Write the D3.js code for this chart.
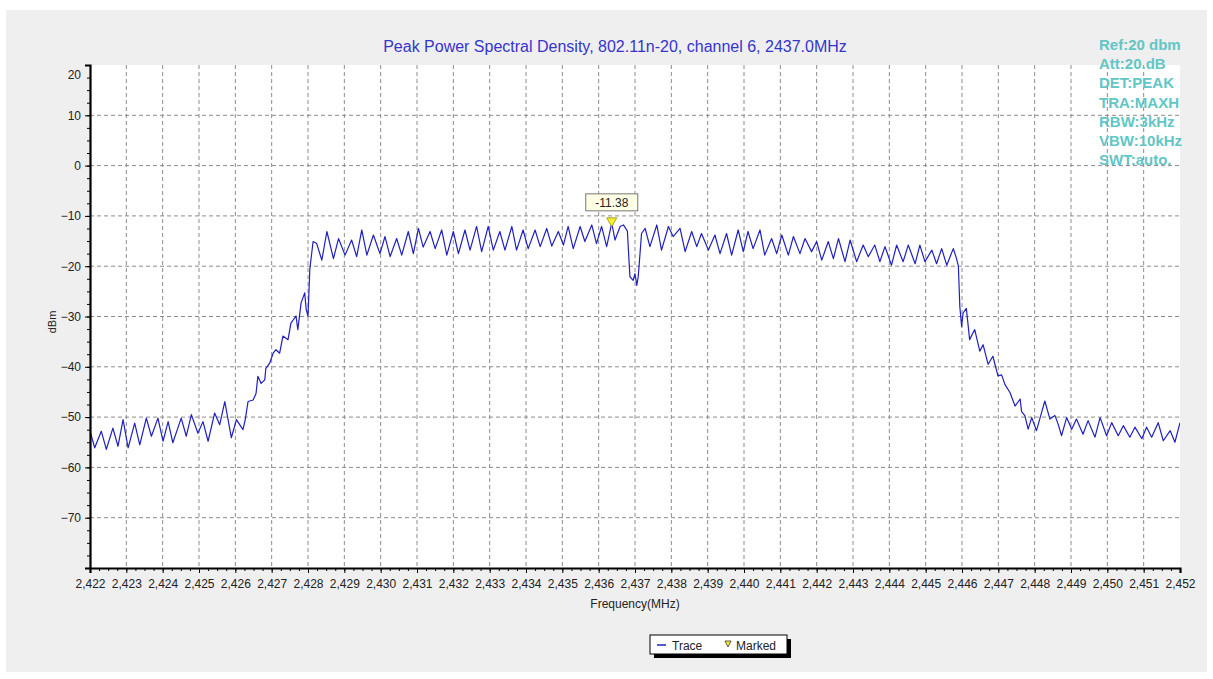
<!DOCTYPE html>
<html>
<head>
<meta charset="utf-8">
<title>Peak Power Spectral Density</title>
<script src="https://cdn.jsdelivr.net/npm/d3@7"></script>
<style>
    body { margin: 0; background: #fff; font-family: Arial, "Liberation Sans", sans-serif; }
</style>
</head>
<body>
<div id="chart"></div>
<script>
// trace vertices (MHz, dBm)
let traceFreq = [
    2422.00, 2422.13, 2422.31, 2422.45, 2422.63, 2422.77, 2422.91, 2423.05, 2423.23, 2423.37,
    2423.55, 2423.69, 2423.87, 2424.01, 2424.15, 2424.28, 2424.51, 2424.65, 2424.79, 2424.97,
    2425.11, 2425.25, 2425.43, 2425.57, 2425.71, 2425.89, 2426.03, 2426.21,
    2426.27, 2426.35, 2426.49, 2426.57, 2426.62, 2426.71, 2426.81, 2426.84, 2426.95, 2427.04,
    2427.12, 2427.22, 2427.31, 2427.45, 2427.53, 2427.67, 2427.72, 2427.81, 2427.91, 2427.95,
    2428.00, 2428.05, 2428.14,
    2428.24, 2428.38, 2428.52, 2428.70, 2428.84, 2429.02, 2429.20, 2429.34, 2429.48, 2429.62,
    2429.80, 2429.98, 2430.12, 2430.26, 2430.44, 2430.58, 2430.76, 2430.90, 2431.04, 2431.17,
    2431.36, 2431.50, 2431.68, 2431.82, 2432.00, 2432.14, 2432.32, 2432.46, 2432.64, 2432.78,
    2432.96, 2433.10, 2433.28, 2433.42, 2433.61, 2433.74, 2433.92, 2434.06, 2434.25, 2434.39,
    2434.57, 2434.71, 2434.89, 2435.03, 2435.16, 2435.30, 2435.49, 2435.62, 2435.81, 2435.94,
    2436.08, 2436.22, 2436.36, 2436.45, 2436.59, 2436.68, 2436.79, 2436.86, 2436.95, 2437.00,
    2437.05, 2437.09, 2437.18, 2437.28, 2437.41, 2437.60, 2437.73, 2437.92, 2438.05, 2438.24,
    2438.38, 2438.56, 2438.70, 2438.83, 2439.02, 2439.20, 2439.34, 2439.52, 2439.66, 2439.84,
    2439.98, 2440.11, 2440.25, 2440.44, 2440.57, 2440.76, 2440.90, 2441.04, 2441.22, 2441.36,
    2441.54, 2441.68, 2441.86, 2442.00, 2442.14, 2442.32, 2442.46, 2442.60, 2442.78, 2442.92,
    2443.10, 2443.28, 2443.42, 2443.60, 2443.74, 2443.88, 2444.06, 2444.20, 2444.38, 2444.52,
    2444.71, 2444.84, 2444.98, 2445.17, 2445.30, 2445.44, 2445.58, 2445.76, 2445.85, 2445.90,
    2445.94, 2445.99, 2446.03, 2446.12, 2446.21, 2446.35, 2446.49, 2446.58, 2446.72, 2446.85,
    2446.99, 2447.09, 2447.18, 2447.32, 2447.46, 2447.60, 2447.64, 2447.73, 2447.82, 2447.92,
    2448.05, 2448.19, 2448.28, 2448.42, 2448.56, 2448.65, 2448.74, 2448.88, 2449.02, 2449.15,
    2449.33, 2449.47, 2449.66, 2449.80, 2449.98, 2450.12, 2450.30, 2450.44, 2450.62, 2450.76,
    2450.95, 2451.08, 2451.22, 2451.40, 2451.54, 2451.73, 2451.86, 2452.00
];
let traceLevel = [
    -52.8, -56.1, -52.8, -56.4, -52.2, -55.8, -50.5, -56.1, -51.2, -55.5,
    -50.2, -53.8, -50.2, -54.8, -50.9, -55.1, -50.2, -53.8, -49.5, -53.2,
    -50.9, -54.8, -49.2, -51.5, -46.9, -54.1, -50.5, -52.5,
    -50.6, -46.9, -46.6, -45.3, -41.9, -43.3, -42.6, -40.3, -39.2, -37.3,
    -36.6, -37.3, -33.9, -34.6, -31.3, -29.9, -32.6, -27.3, -25.3, -28.6,
    -29.9, -20.6, -15.1,
    -15.5, -18.8, -13.1, -18.5, -14.5, -17.8, -14.8, -18.1, -12.8, -17.8,
    -13.8, -17.5, -14.1, -18.1, -14.5, -17.8, -13.1, -17.5, -12.5, -16.2,
    -13.1, -16.5, -12.8, -17.8, -13.1, -17.5, -12.8, -16.8, -12.1, -17.1,
    -12.1, -16.8, -13.1, -16.8, -12.1, -16.8, -12.8, -16.5, -12.8, -16.1,
    -12.5, -16.0, -13.1, -15.8, -12.1, -16.5, -12.1, -15.1, -11.8, -15.5,
    -12.1, -16.1, -11.38, -14.8, -12.1, -11.8, -13.0, -22.1, -22.8, -21.5,
    -23.8, -22.0, -13.5, -12.5, -16.1, -11.8, -16.8, -12.1, -14.1, -12.5,
    -17.1, -13.1, -16.1, -13.5, -16.8, -13.8, -17.5, -13.5, -17.8, -12.8,
    -17.1, -13.1, -16.5, -12.8, -17.8, -14.5, -17.5, -13.8, -17.8, -14.1,
    -17.5, -14.5, -17.1, -15.1, -18.8, -15.1, -18.5, -14.5, -19.1, -14.8,
    -19.1, -15.8, -18.1, -15.8, -19.1, -16.1, -19.8, -15.8, -19.1, -15.8,
    -19.5, -15.8, -19.1, -16.8, -19.5, -16.5, -19.8, -16.5, -18.5, -20.0,
    -28.0, -32.0, -29.3, -28.4, -34.6, -32.6, -36.9, -35.6, -39.5, -37.9,
    -41.8, -41.6, -43.5, -45.1, -47.8, -46.4, -48.9, -49.7, -52.4, -50.1,
    -52.7, -49.1, -46.8, -50.4, -49.7, -51.5, -53.7, -50.1, -52.4, -50.4,
    -53.4, -50.7, -54.0, -50.1, -53.7, -51.1, -53.7, -51.7, -54.0, -52.0,
    -54.3, -52.0, -54.0, -51.1, -54.7, -52.7, -55.0, -51.1
];

let yTickValues = [20, 10, 0, -10, -20, -30, -40, -50, -60, -70];
let xTickValues = d3.range(2422, 2453, 1);

let markerFreq = [2436.36];
let markerLevel = [-11.38];

let settingsText = ["Ref:20 dbm", "Att:20.dB", "DET:PEAK", "TRA:MAXH", "RBW:3kHz", "VBW:10kHz", "SWT:auto."];
let legendItems = ["Trace", "Marked"];

class SpectrumVis {
    constructor(_parentElement) {
        this.parentElement = _parentElement;
        this.initVis();
    }

    initVis() {
        let vis = this;

        vis.fullWidth = 1213;
        vis.fullHeight = 679;
        vis.margin = {top: 65, right: 33, bottom: 111, left: 90};
        vis.width = vis.fullWidth - vis.margin.left - vis.margin.right;
        vis.height = vis.fullHeight - vis.margin.top - vis.margin.bottom;

        vis.root = d3.select("#" + vis.parentElement).append("svg")
            .attr("width", vis.fullWidth)
            .attr("height", vis.fullHeight);

        // grey panel behind everything
        vis.root.append("rect")
            .attr("x", 6).attr("y", 10)
            .attr("width", vis.fullWidth - 12)
            .attr("height", vis.fullHeight - 17)
            .attr("fill", "#efefef");

        vis.root.append("text")
            .attr("x", 615)
            .attr("y", 52)
            .attr("text-anchor", "middle")
            .attr("font-size", 16)
            .attr("fill", "#3535cc")
            .text("Peak Power Spectral Density, 802.11n-20, channel 6, 2437.0MHz");

        vis.svg = vis.root.append("g")
            .attr("transform", "translate(" + vis.margin.left + "," + vis.margin.top + ")");

        vis.svg.append("rect")
            .attr("width", vis.width)
            .attr("height", vis.height)
            .attr("fill", "#fff");

        vis.x = d3.scaleLinear().domain([2422, 2452]).range([0, vis.width]);
        vis.y = d3.scaleLinear().domain([-80, 20]).range([vis.height, 0]);

        vis.updateVis();
    }

    updateVis() {
        let vis = this;

        // dashed grid
        vis.svg.append("g")
            .selectAll("line")
            .data(xTickValues.filter(d => d > 2422 && d < 2452))
            .enter().append("line")
            .attr("x1", d => vis.x(d)).attr("x2", d => vis.x(d))
            .attr("y1", 0).attr("y2", vis.height)
            .attr("stroke", "#8c8c8c")
            .attr("stroke-dasharray", "4,3");

        vis.svg.append("g")
            .selectAll("line")
            .data(yTickValues.filter(d => d < 20))
            .enter().append("line")
            .attr("x1", 0).attr("x2", vis.width)
            .attr("y1", d => vis.y(d)).attr("y2", d => vis.y(d))
            .attr("stroke", "#8c8c8c")
            .attr("stroke-dasharray", "4,3");

        vis.svg.append("clipPath").attr("id", "plot-clip")
            .append("rect").attr("width", vis.width).attr("height", vis.height);

        let line = d3.line()
            .x((d, i) => vis.x(traceFreq[i]))
            .y(d => vis.y(d));

        vis.svg.append("path")
            .datum(traceLevel)
            .attr("clip-path", "url(#plot-clip)")
            .attr("d", line)
            .attr("fill", "none")
            .attr("stroke", "#2020c0")
            .attr("stroke-width", 1.2)
            .attr("stroke-linejoin", "round");

        // axes: minor ticks first, then majors with labels
        vis.svg.append("g")
            .attr("transform", "translate(0," + vis.height + ")")
            .call(d3.axisBottom(vis.x).tickValues(d3.range(2422, 2452.01, 0.25)).tickSize(3).tickFormat(""))
            .call(g => g.select(".domain").remove());

        vis.svg.append("g")
            .call(d3.axisLeft(vis.y).tickValues(d3.range(-80, 20.01, 2.5)).tickSize(3).tickFormat(""))
            .call(g => g.select(".domain").remove());

        let xAxis = vis.svg.append("g")
            .attr("transform", "translate(0," + vis.height + ")")
            .call(d3.axisBottom(vis.x).tickValues(xTickValues).tickSize(5).tickPadding(6).tickFormat(d3.format(",")));

        let yAxis = vis.svg.append("g")
            .call(d3.axisLeft(vis.y).tickValues(yTickValues).tickSize(5).tickPadding(4));

        [xAxis, yAxis].forEach(g => {
            g.select(".domain").attr("stroke", "#000").attr("stroke-width", 2.2);
            g.selectAll("text").attr("font-size", 12).attr("fill", "#222")
                .attr("font-family", "Arial, 'Liberation Sans', sans-serif");
        });
        yAxis.selectAll(".tick").filter(d => d === 20).select("text").attr("dy", "1.1em");

        vis.root.append("text")
            .attr("x", 635).attr("y", 608)
            .attr("text-anchor", "middle")
            .attr("font-size", 12)
            .attr("fill", "#222")
            .text("Frequency(MHz)");

        vis.root.append("text")
            .attr("transform", "translate(56,322) rotate(-90)")
            .attr("text-anchor", "middle")
            .attr("font-size", 11)
            .attr("fill", "#222")
            .text("dBm");

        // marker with its value box
        let mx = vis.x(markerFreq[0]);
        let my = vis.y(markerLevel[0]);

        vis.svg.append("path")
            .attr("d", "M" + (mx - 5) + "," + (my - 5) + "L" + (mx + 5) + "," + (my - 5) + "L" + mx + "," + (my + 4) + "Z")
            .attr("fill", "#f5f02a")
            .attr("stroke", "#9a8a1a")
            .attr("stroke-width", 0.8);

        vis.svg.append("rect")
            .attr("x", mx - 26).attr("y", my - 29)
            .attr("width", 52).attr("height", 17)
            .attr("fill", "#ffffe6")
            .attr("stroke", "#777");

        vis.svg.append("text")
            .attr("x", mx).attr("y", my - 16)
            .attr("text-anchor", "middle")
            .attr("font-size", 12)
            .attr("fill", "#222")
            .text(markerLevel[0].toFixed(2));

        // analyzer settings, top right
        vis.root.append("g")
            .selectAll("text")
            .data(settingsText)
            .enter().append("text")
            .attr("x", 1099)
            .attr("y", (d, i) => 50 + i * 19.2)
            .attr("font-size", 15)
            .attr("font-weight", "bold")
            .attr("fill", "#62c6c6")
            .text(d => d);

        // legend
        let legend = vis.root.append("g").attr("transform", "translate(650,635)");
        legend.append("rect").attr("x", 4).attr("y", 4).attr("width", 137).attr("height", 19).attr("fill", "#000");
        legend.append("rect").attr("width", 137).attr("height", 19).attr("fill", "#fff").attr("stroke", "#000");
        legend.append("line").attr("x1", 7).attr("x2", 16).attr("y1", 10).attr("y2", 10)
            .attr("stroke", "#2020c0").attr("stroke-width", 1.5);
        legend.append("text").attr("x", 22).attr("y", 14.5).attr("font-size", 12).attr("fill", "#222").text(legendItems[0]);
        legend.append("path").attr("d", "M75,6L81,6L78,12Z")
            .attr("fill", "#f5f02a").attr("stroke", "#333").attr("stroke-width", 0.8);
        legend.append("text").attr("x", 86).attr("y", 14.5).attr("font-size", 12).attr("fill", "#222").text(legendItems[1]);
    }
}

let spectrumVis = new SpectrumVis("chart");
</script>
</body>
</html>
